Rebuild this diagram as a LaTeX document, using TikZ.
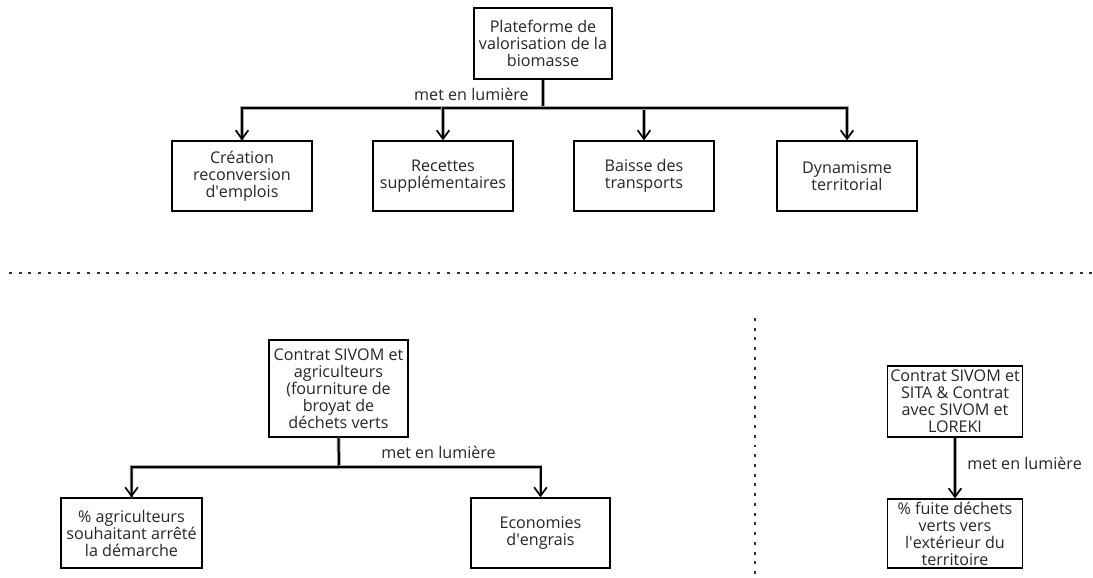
\documentclass[tikz,border=0pt]{standalone}
\usepackage{fontspec}
\setmainfont{Open Sans}
\usetikzlibrary{arrows.meta}
\newcommand{\apos}{\textquotesingle}
\begin{document}
\begin{tikzpicture}[x=0.75pt,y=-0.75pt,
  box/.style={draw=black,line width=1.1pt,align=center,inner sep=0pt,
    font=\fontsize{12.1}{12.75}\selectfont,text=black!85},
  cbox/.style={box,minimum width=105pt,minimum height=52.5pt},
  conn/.style={line width=1.5pt,draw=black,
    preaction={draw=black!35,line width=2.6pt},
    -{Straight Barb[length=6.5pt,width=9.5pt,line width=1.2pt]}},
  plain/.style={line width=1.5pt,draw=black,preaction={draw=black!35,line width=2.6pt}},
  lbl/.style={font=\fontsize{12.1}{12}\selectfont,text=black!85,inner sep=0pt},
  sep/.style={line width=2.2pt,dash pattern=on 2.2pt off 5.1pt,draw=black!80}
]
\useasboundingbox (0,0) rectangle (1093,578);

% top part
\node[box,minimum width=103.5pt,minimum height=53.25pt] (plat) at (543,43.5) {Plateforme de\\valorisation de la\\biomasse};
\node[cbox] (c1) at (242,176) {Création\\reconversion\\d\apos emplois};
\node[cbox] (c2) at (443,176) {Recettes\\supplémentaires};
\node[cbox] (c3) at (644,176) {Baisse des\\transports};
\node[cbox] (c4) at (847,176) {Dynamisme\\territorial};
\coordinate (bus1) at (543,108);
\draw[plain] (plat.south) -- (plat.south |- bus1) -| (c1.north);
\draw[conn] (plat.south) -- (plat.south |- bus1) -| (c1.north);
\draw[conn] (plat.south |- bus1) -| (c2.north);
\draw[conn] (plat.south |- bus1) -| (c3.north);
\draw[conn] (plat.south |- bus1) -| (c4.north);
\node[lbl,anchor=east] (l1) at (529,94) {met en lumière};

% separators
\coordinate (h1) at (9,273);
\coordinate (h2) at (1093,273);
\draw[sep] (h1) -- (h2);
\coordinate (v1) at (755,318);
\coordinate (v2) at (755,578);
\draw[sep] (v1) -- (v2);

% bottom left
\node[box,minimum width=104.25pt,minimum height=72.75pt] (sivom) at (338.5,388.5) {Contrat SIVOM et\\agriculteurs\\(fourniture de\\broyat de\\déchets verts};
\node[box,minimum width=105.75pt,minimum height=52.5pt] (agri) at (131.5,533) {\% agriculteurs\\souhaitant arrêté\\la démarche};
\node[box,minimum width=104.25pt,minimum height=52.5pt] (eco) at (540.5,533) {Economies\\d\apos engrais};
\coordinate (bus2) at (339,467);
\draw[plain] (sivom.south) -- (bus2) -| (agri.north);
\draw[conn] (sivom.south) -- (bus2) -| (agri.north);
\draw[conn] (bus2) -| (eco.north);
\node[lbl,anchor=west] (l2) at (381,452) {met en lumière};

% bottom right
\node[box,minimum width=101pt,minimum height=53.25pt] (sita) at (955,401.5) {Contrat SIVOM et\\SITA \& Contrat\\avec SIVOM et\\LOREKI};
\node[box,minimum width=101pt,minimum height=51.75pt] (fuite) at (955,533.5) {\% fuite déchets\\verts vers\\l\apos extérieur du\\territoire};
\draw[conn] (sita.south) -- (fuite.north);
\node[lbl,anchor=west] (l3) at (967,463) {met en lumière};
\end{tikzpicture}
\end{document}
